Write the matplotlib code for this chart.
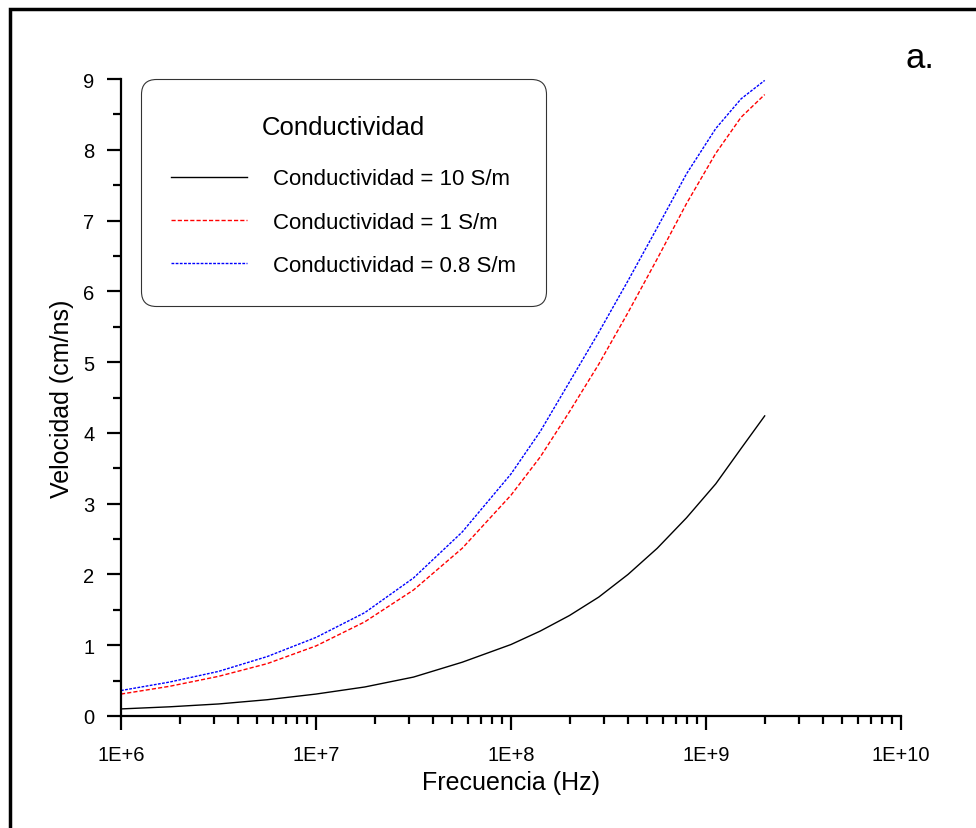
import matplotlib
matplotlib.use("Agg")
import matplotlib.pyplot as plt
import matplotlib.ticker as ticker
from matplotlib.patches import Rectangle
from matplotlib.offsetbox import VPacker, DrawingArea
import numpy as np

plt.rcParams['font.family'] = ['Liberation Sans', 'DejaVu Sans']

# log10 of frequency (Hz) and velocity (cm/ns)
log_freq = [6.0, 6.25, 6.5, 6.75, 7.0, 7.25, 7.5, 7.75, 8.0, 8.15, 8.3, 8.45, 8.6, 8.75, 8.9, 9.05, 9.18, 9.301]
vel_10 = [0.10, 0.13, 0.17, 0.23, 0.31, 0.41, 0.55, 0.76, 1.01, 1.20, 1.42, 1.68, 2.00, 2.37, 2.80, 3.28, 3.78, 4.24]
vel_1 = [0.31, 0.42, 0.56, 0.74, 0.99, 1.33, 1.78, 2.37, 3.12, 3.66, 4.30, 4.97, 5.70, 6.46, 7.24, 7.95, 8.46, 8.78]
vel_08 = [0.36, 0.48, 0.63, 0.84, 1.11, 1.46, 1.95, 2.60, 3.42, 4.02, 4.72, 5.42, 6.15, 6.90, 7.66, 8.30, 8.72, 8.98]

labels = ["Conductividad = 10 S/m", "Conductividad = 1 S/m", "Conductividad = 0.8 S/m"]
x_ticks = [1e6, 1e7, 1e8, 1e9, 1e10]

freq = 10 ** np.array(log_freq)

fig = plt.figure(figsize=(9.76, 8.29), dpi=100)
ax = fig.add_axes([121 / 976, 1 - 717 / 829, (901 - 121) / 976, (717 - 80) / 829])

ax.plot(freq, vel_10, color="black", lw=1.0, label=labels[0])
ax.plot(freq, vel_1, color="red", lw=1.0, dashes=(3, 1.5), label=labels[1])
ax.plot(freq, vel_08, color="blue", lw=1.0, dashes=(2, 1), label=labels[2])

ax.set_xscale("log")
ax.set_xlim(1e6, 1e10)
ax.set_ylim(0, 9)
ax.spines['top'].set_visible(False)
ax.spines['right'].set_visible(False)
for s in ['left', 'bottom']:
    ax.spines[s].set_linewidth(1.6)

ax.xaxis.set_major_locator(ticker.FixedLocator(x_ticks))
ax.xaxis.set_major_formatter(ticker.FuncFormatter(lambda v, p: "1E+%d" % round(np.log10(v))))
ax.xaxis.set_minor_locator(ticker.LogLocator(base=10, subs=np.arange(2, 10), numticks=20))
ax.xaxis.set_minor_formatter(ticker.NullFormatter())
ax.yaxis.set_major_locator(ticker.MultipleLocator(1))
ax.yaxis.set_minor_locator(ticker.MultipleLocator(0.5))

ax.tick_params(which='major', direction='out', length=10, width=1.6, labelsize=14.5)
ax.tick_params(which='minor', direction='out', length=5.5, width=1.6)
ax.tick_params(axis='x', which='major', pad=11)
ax.tick_params(axis='y', which='major', pad=9)

ax.set_xlabel("Frecuencia (Hz)", fontsize=18, labelpad=4)
ax.set_ylabel("Velocidad (cm/ns)", fontsize=18, labelpad=7)

leg = ax.legend(title="Conductividad", fontsize=16, title_fontsize=18.5,
                loc="upper left", bbox_to_anchor=(141 / 976, 1 - 80 / 829),
                bbox_transform=fig.transFigure, frameon=True, fancybox=True,
                handlelength=3.42, handletextpad=1.17, borderpad=1.35,
                labelspacing=1.0, borderaxespad=0)
frame = leg.get_frame()
frame.set_edgecolor("black")
frame.set_linewidth(0.8)
frame.set_boxstyle("round,pad=0,rounding_size=0.68")
# a bit more room above the legend title
kids = leg._legend_box.get_children()
kids[0] = VPacker(pad=0, sep=0, align="center", children=[DrawingArea(1, 4.5), kids[0]])
leg._legend_box._children = kids
leg._legend_box.sep = 21
leg._legend_box.set_figure(fig)

fig.text(920 / 976, 1 - 58 / 829, "a.", fontsize=25, ha="center", va="center")

# outer frame (only top and left edges fall inside the picture)
fig.patches.append(Rectangle((9.5 / 976, -0.5), 2, 0.5 + 1 - 9.5 / 829, transform=fig.transFigure,
                             fill=False, edgecolor="black", linewidth=2.5))

fig.savefig("out.png", dpi=100)
